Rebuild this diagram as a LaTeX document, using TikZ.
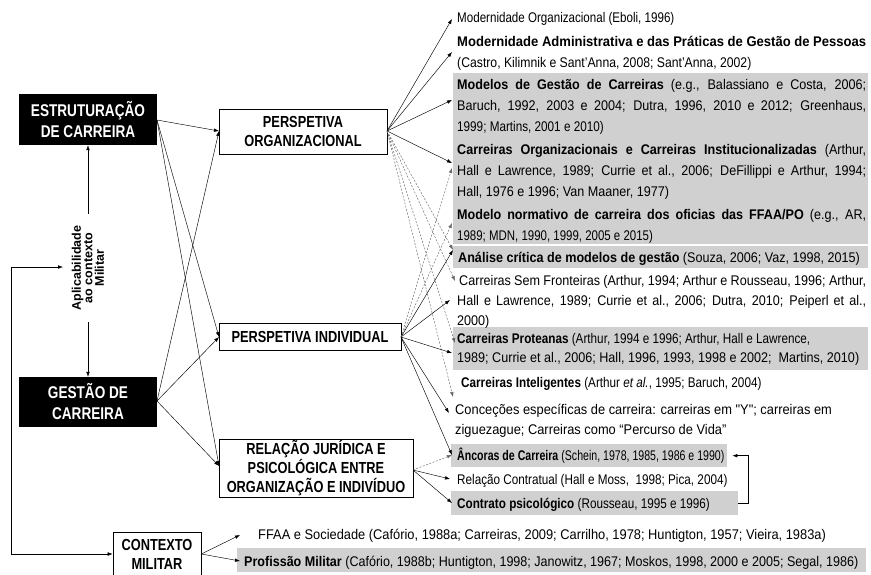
\documentclass[tikz,border=0pt]{standalone}
\usepackage{graphicx}
\usepackage{fontspec}
\setmainfont{Liberation Sans}
\newfontfamily\bxf[FakeStretch=0.8]{Liberation Sans}
\newfontfamily\rtf[FakeStretch=0.9]{Liberation Sans}
\usetikzlibrary{arrows.meta}
\definecolor{lgray}{RGB}{208,208,208}
\newcommand\jline[1]{\makebox[409pt][s]{#1}}
\newcommand\fitw[2]{\resizebox{#1pt}{\height}{#2}}
\newcommand\sx[2]{\scalebox{#1}[1]{#2}}
\begin{document}
\begin{tikzpicture}[x=1pt,y=-1pt,
 blk/.style={fill=black,text=white,font=\bxf\fontsize{17}{21}\selectfont\bfseries,align=center,inner sep=0pt},
 wbox/.style={draw=black,line width=0.6pt,fill=white,font=\bxf\fontsize{16}{19}\selectfont\bfseries,align=center,inner sep=0pt},
 txt/.style={anchor=base west,inner sep=0pt,font=\rtf\fontsize{14}{16}\selectfont},
 gbg/.style={fill=lgray,draw=none,inner sep=0pt,anchor=north west},
 arr/.style={-{Latex[length=5pt,width=3.6pt]},line width=0.45pt},
 darr/.style={arr,draw=black!60,dash pattern=on 2pt off 1.5pt},
 barr/.style={{Latex[length=5pt,width=3.6pt]}-{Latex[length=5pt,width=3.6pt]},line width=0.45pt},
]
\useasboundingbox (0,0) rectangle (871,574);
% gray backgrounds
\node[gbg,minimum width=415pt,minimum height=171pt] (gA) at (453,73) {};
\node[gbg,minimum width=415pt,minimum height=22pt] (gB) at (453,246) {};
\node[gbg,minimum width=415pt,minimum height=43pt] (gC) at (453,327) {};
\node[gbg,minimum width=276pt,minimum height=23pt] (ancbg) at (451,444) {};
\node[gbg,minimum width=287pt,minimum height=24pt] (ctrbg) at (451,491) {};
\node[gbg,minimum width=629pt,minimum height=24pt] (gP) at (237,548) {};

% left boxes
\node[blk,minimum width=138pt,minimum height=51pt] (E) at (88,119.5) {ESTRUTURAÇÃO\\DE CARREIRA};
\node[blk,minimum width=138pt,minimum height=50pt] (G) at (88,402) {GESTÃO DE\\CARREIRA};
\node[rotate=90,align=center,inner sep=0pt,font=\fontsize{12.5}{11.5}\selectfont\bfseries] (lab) at (88,268) {Aplicabilidade\\ao contexto\\Militar};
\coordinate (lt) at (88,214);
\coordinate (lb) at (88,322);
\coordinate (lp) at (63,267);
\coordinate (lc) at (11,267);

% middle boxes
\node[wbox,minimum width=168pt,minimum height=45pt] (PO) at (303,131.5) {PERSPETIVA\\ORGANIZACIONAL};
\node[wbox,minimum width=182pt,minimum height=27pt] (PI) at (310,336.5) {PERSPETIVA INDIVIDUAL};
\node[wbox,minimum width=194pt,minimum height=58pt] (RJ) at (316,468) {RELAÇÃO JURÍDICA E\\PSICOLÓGICA ENTRE\\ORGANIZAÇÃO E INDIVÍDUO};
\node[wbox,minimum width=88pt,minimum height=44pt] (CM) at (157,554) {CONTEXTO\\MILITAR};

% right texts
\node[txt] (t1) at (457,22) {\sx{0.92}{Modernidade Organizacional (Eboli, 1996)}};
\node[txt] (t2) at (457,46) {\fitw{409}{\bfseries Modernidade Administrativa e das Práticas de Gestão de Pessoas}};
\node[txt] (t3) at (457,67) {\sx{0.97}{(Castro, Kilimnik e Sant’Anna, 2008; Sant’Anna, 2002)}};
\node[txt] (t4) at (457,89) {\jline{\textbf{Modelos de Gestão de Carreiras} (e.g., Balassiano e Costa, 2006;}};
\node[txt] (t5) at (457,110) {\jline{Baruch, 1992, 2003 e 2004; Dutra, 1996, 2010 e 2012; Greenhaus,}};
\node[txt] (t6) at (457,131) {\sx{0.93}{1999; Martins, 2001 e 2010)}};
\node[txt] (t7) at (457,154) {\jline{\textbf{Carreiras Organizacionais e Carreiras Institucionalizadas} (Arthur,}};
\node[txt] (t8) at (457,175) {\jline{Hall e Lawrence, 1989; Currie et al., 2006; DeFillippi e Arthur, 1994;}};
\node[txt] (t9) at (457,196) {Hall, 1976 e 1996; Van Maaner, 1977)};
\node[txt] (t10) at (457,219) {\jline{\textbf{Modelo normativo de carreira dos oficias das FFAA/PO} (e.g., AR,}};
\node[txt] (t11) at (457,240) {\sx{0.91}{1989; MDN, 1990, 1999, 2005 e 2015)}};
\node[txt] (t12) at (458,262) {\textbf{Análise crítica de modelos de gestão} (Souza, 2006; Vaz, 1998, 2015)};
\node[txt] (t13) at (459,285) {\makebox[407pt][s]{Carreiras Sem Fronteiras (Arthur, 1994; Arthur e Rousseau, 1996; Arthur,}};
\node[txt] (t14) at (457,305) {\jline{Hall e Lawrence, 1989; Currie et al., 2006; Dutra, 2010; Peiperl et al.,}};
\node[txt] (t15) at (457,325) {2000)};
\node[txt] (t16) at (457,343) {\sx{0.93}{\textbf{Carreiras Proteanas} (Arthur, 1994 e 1996; Arthur, Hall e Lawrence,}};
\node[txt] (t17) at (457,362) {1989; Currie et al., 2006; Hall, 1996, 1993, 1998 e 2002;\ \ Martins, 2010)};
\node[txt] (t18) at (461,387) {\sx{0.93}{\textbf{Carreiras Inteligentes} (Arthur \textit{et al.}, 1995; Baruch, 2004)}};
\node[txt] (t19) at (455,414) {\sx{1.02}{Conceções específicas de carreira: carreiras em "Y"; carreiras em}};
\node[txt] (t20) at (455,434) {\sx{1.02}{ziguezague; Carreiras como “Percurso de Vida”}};
\node[txt] (t21) at (457,460) {\sx{0.84}{\textbf{Âncoras de Carreira} (Schein, 1978, 1985, 1986 e 1990)}};
\node[txt] (t22) at (457,484) {\sx{0.93}{Relação Contratual (Hall e Moss,\ \ 1998; Pica, 2004)}};
\node[txt] (t23) at (457,508) {\sx{0.93}{\textbf{Contrato psicológico} (Rousseau, 1995 e 1996)}};
\node[txt] (t24) at (258,539) {\sx{1.02}{FFAA e Sociedade (Cafório, 1988a; Carreiras, 2009; Carrilho, 1978; Huntigton, 1957; Vieira, 1983a)}};
\node[txt] (t25) at (244,566) {\fitw{614}{\textbf{Profissão Militar} (Cafório, 1988b; Huntigton, 1998; Janowitz, 1967; Moskos, 1998, 2000 e 2005; Segal, 1986)}};

% arrow end points
\coordinate (a1) at (452,19);
\coordinate (a2) at (452,52);
\coordinate (a3) at (452,100);
\coordinate (a4) at (452,163);
\coordinate (a5) at (452,168);
\coordinate (a6) at (452,223);
\coordinate (a7) at (453,250);
\coordinate (a8) at (455,281);
\coordinate (a9) at (450,300);
\coordinate (a10) at (455,343);
\coordinate (a11) at (452,353);
\coordinate (a12) at (453,397);
\coordinate (a13) at (449,413);
\coordinate (a14) at (452,455);
\coordinate (a15) at (450,479);
\coordinate (a16) at (452,503);
\coordinate (a17) at (240,535);
\coordinate (a18) at (240,561);
\coordinate (poe) at (387,131);
\coordinate (pie) at (401,337);
\coordinate (rje) at (413,470);
\coordinate (ee) at (157,120);
\coordinate (ge) at (157,401);
\coordinate (pow) at (219,131);
\coordinate (piw) at (219,337);
\coordinate (rjw) at (219,466);

% connectors left
\draw[arr] (lt) -- (E.south);
\draw[arr] (lb) -- (G.north);
\draw[barr] (lp) -- (lc) |- (CM.west);
\foreach \s in {ee,ge}{
  \draw[arr] (\s) -- (pow);
  \draw[arr] (\s) -- (piw);
  \draw[arr] (\s) -- (rjw);
}
% from PO
\foreach \t in {a1,a2,a3,a4} \draw[arr] (poe) -- (\t);
\foreach \t in {a7,a8,a10,a12} \draw[darr] (poe) -- (\t);
% from PI
\foreach \t in {a7,a9,a11,a13,a14} \draw[arr] (pie) -- (\t);
\foreach \t in {a5,a6} \draw[darr] (pie) -- (\t);
% from RJ
\draw[darr] (rje) -- (a14);
\draw[arr] (rje) -- (a15);
\draw[arr] (rje) -- (a16);
% from CM
\draw[arr] (CM.east) -- (a17);
\draw[arr] (CM.east) -- (a18);
% feedback
\draw[arr] (ctrbg.east) -- ++(10,0) |- ([xshift=5pt]ancbg.east);
\end{tikzpicture}
\end{document}
